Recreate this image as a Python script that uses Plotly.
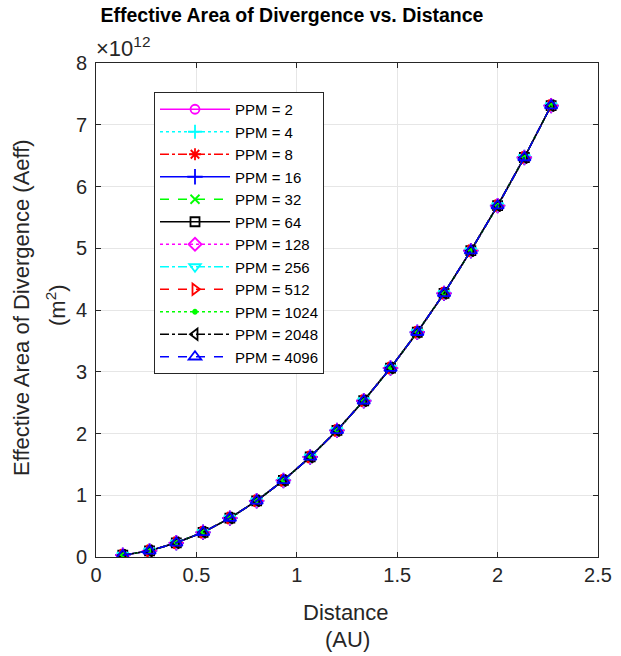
import plotly.graph_objects as go

distance_au = [0.1333, 0.2667, 0.4, 0.5333, 0.6667, 0.8, 0.9333, 1.0667, 1.2,
               1.3333, 1.4667, 1.6, 1.7333, 1.8667, 2.0, 2.1333, 2.2667]
aeff_e12 = [0.03, 0.10, 0.23, 0.40, 0.63, 0.91, 1.24, 1.62, 2.05,
            2.53, 3.06, 3.64, 4.27, 4.96, 5.69, 6.47, 7.31]
ppm_labels = ["PPM = 2", "PPM = 4", "PPM = 8", "PPM = 16", "PPM = 32", "PPM = 64",
              "PPM = 128", "PPM = 256", "PPM = 512", "PPM = 1024", "PPM = 2048", "PPM = 4096"]
colors = ["#ff00ff", "#00ffff", "#ff0000", "#0000ff", "#00ff00", "#000000",
          "#ff00ff", "#00ffff", "#ff0000", "#00ff00", "#000000", "#0000ff"]
dashes = ["solid", "dot", "dashdot", "solid", "dash", "solid",
          "dot", "dashdot", "dash", "dot", "dashdot", "dash"]
symbols = ["circle-open", "cross-thin-open", "asterisk-open", "cross-thin-open", "x-thin-open",
           "square-open", "diamond-open", "triangle-down-open", "triangle-right-open",
           "circle", "triangle-left-open", "triangle-up-open"]
sizes = [9, 10, 10, 11, 9, 9, 10, 10, 10, 4, 10, 11]

W, H = 621, 656
L, R, T, B = 96, 598, 63, 557   # plot area in pixels


def px_x(p):
    return (p - L) / (R - L)


def px_y(p):
    return (B - p) / (B - T)


fig = go.Figure()
for lab, c, d, s, sz in zip(ppm_labels, colors, dashes, symbols, sizes):
    fig.add_trace(go.Scatter(
        x=distance_au, y=aeff_e12, name=lab, mode="lines+markers",
        line=dict(color=c, dash=d, width=1.5),
        marker=dict(symbol=s, size=sz, color=c, line=dict(color=c, width=1.8)),
    ))

axis_common = dict(showline=True, linecolor="#262626", linewidth=1, mirror="ticks",
                   ticks="inside", ticklen=5, tickcolor="#262626",
                   showgrid=True, gridcolor="#e6e6e6", zeroline=False, automargin=False,
                   tickfont=dict(size=20, color="#262626"))

fig.update_layout(
    width=W, height=H,
    paper_bgcolor="white", plot_bgcolor="white",
    font=dict(family="Liberation Sans, Arial, sans-serif", color="#262626"),
    margin=dict(l=L, r=W - R, t=T, b=H - B),
    title=dict(text="<b>Effective Area of Divergence vs. Distance</b>",
               x=292 / W, xanchor="center", y=1 - 15 / H, yanchor="middle",
               font=dict(size=19.5, color="black")),
    xaxis=dict(range=[0, 2.5], tickvals=[0, 0.5, 1, 1.5, 2, 2.5],
               ticktext=["0", "0.5", "1", "1.5", "2", "2.5"], **axis_common),
    yaxis=dict(range=[0, 8], tickvals=list(range(9)), ticklabelstandoff=4, **axis_common),
    legend=dict(x=px_x(154), y=px_y(92), xanchor="left", yanchor="top",
                bgcolor="white", bordercolor="#262626", borderwidth=1,
                font=dict(size=15, color="black"), tracegroupgap=0, itemwidth=70),
    showlegend=True,
)
fig.add_annotation(text="×10<sup>12</sup>", xref="paper", yref="paper",
                   x=px_x(94), y=px_y(47), xanchor="left", yanchor="middle", showarrow=False,
                   font=dict(size=22, color="#262626"))
fig.add_annotation(text="Distance", xref="paper", yref="paper",
                   x=px_x(346), y=px_y(612), xanchor="center", yanchor="middle",
                   showarrow=False, font=dict(size=22, color="#262626"))
fig.add_annotation(text="(AU)", xref="paper", yref="paper",
                   x=px_x(347), y=px_y(639), xanchor="center", yanchor="middle",
                   showarrow=False, font=dict(size=22, color="#262626"))
fig.add_annotation(text="Effective Area of Divergence (Aeff)",
                   xref="paper", yref="paper", x=px_x(21), y=px_y(308),
                   xanchor="center", yanchor="middle", textangle=-90,
                   showarrow=False, font=dict(size=22, color="#262626"))
fig.add_annotation(text="(m<sup>2</sup>)",
                   xref="paper", yref="paper", x=px_x(56), y=px_y(305),
                   xanchor="center", yanchor="middle", textangle=-90,
                   showarrow=False, font=dict(size=22, color="#262626"))

fig.write_html("out.html", config={"displayModeBar": False},
               post_script="document.body.style.margin='0px';")
